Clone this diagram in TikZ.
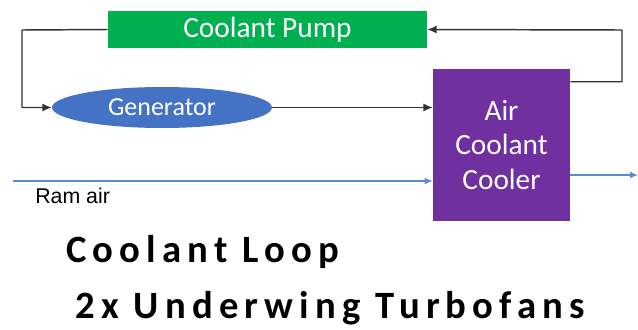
\documentclass[tikz,border=0pt]{standalone}
\usepackage{fontspec}
\setmainfont{Carlito}
\newfontfamily\ramfont{Liberation Sans}
\newfontfamily\titlefont[LetterSpace=16]{Carlito}
\usetikzlibrary{arrows.meta,shapes.geometric}
\definecolor{pumpgreen}{RGB}{0,176,80}
\definecolor{genblue}{RGB}{68,114,196}
\definecolor{coolpurple}{RGB}{112,48,160}
\definecolor{airblue}{RGB}{91,140,205}
\begin{document}
\begin{tikzpicture}[x=0.75pt, y=-0.75pt, line join=round,
  loop/.style={draw=black!80, line width=1.1pt, -{Latex[length=7pt,width=6pt]}},
  air/.style={draw=airblue, line width=0.8pt, -{Latex[length=6pt,width=5pt]}},
  unit/.style={inner sep=0pt, text=white, font=\fontsize{22}{26}\selectfont}]
\useasboundingbox (0,0) rectangle (638,329);

\node[unit, fill=pumpgreen, minimum width=239.25pt, minimum height=27.75pt] (pump) at (267.5,29.5) {Coolant Pump};
\node[unit, ellipse, fill=genblue, minimum width=165pt, minimum height=30.75pt,
  font=\fontsize{19.5}{23}\selectfont] (gen) at (162,107.5) {Generator};
\node[unit, fill=coolpurple, minimum width=102.75pt, minimum height=114pt, align=center] (cooler) at (501.5,145) {Air\\Coolant\\Cooler};

\coordinate (lc) at (22,30);
\coordinate (rc) at (622,30);
\coordinate (cout) at ([yshift=-9.75pt]cooler.north east);
\coordinate (ram) at (13,181);
\coordinate (exit) at (638,175);

\draw[loop] (pump.west) -- (lc) |- (gen.west);
\draw[loop] (gen.east) -- (gen.east -| cooler.west);
\draw[loop] (cout) -| (rc) -- (pump.east);
\draw[air] (ram) -- (ram -| cooler.west);
\draw[air] (cooler.east |- exit) -- (exit);

\node[anchor=base west, inner sep=0pt, font=\ramfont\fontsize{16}{19}\selectfont] (ramlbl) at (35,203) {Ram air};
\node[anchor=base west, inner sep=0pt, font=\titlefont\bfseries\fontsize{29}{34}\selectfont] (title) at (66,262) {Coolant Loop};
\node[anchor=base west, inner sep=0pt, font=\titlefont\bfseries\fontsize{29}{34}\selectfont] (subtitle) at (75,318) {2x Underwing Turbofans};
\end{tikzpicture}
\end{document}
